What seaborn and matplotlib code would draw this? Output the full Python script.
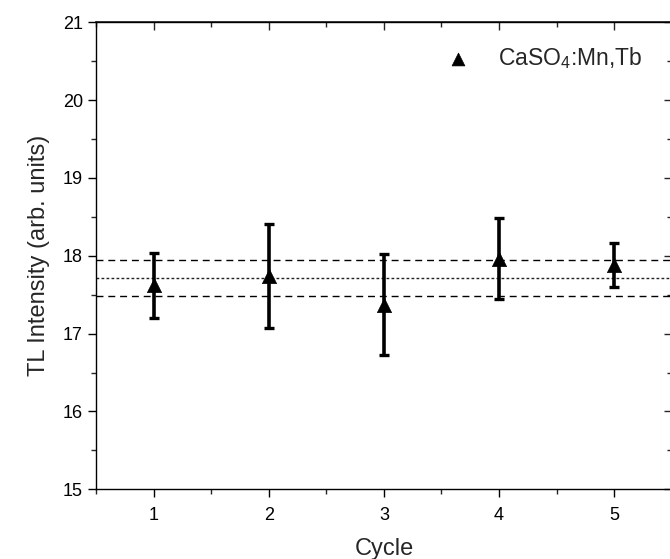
import matplotlib
matplotlib.use("Agg")
import matplotlib.pyplot as plt
import seaborn as sns
import numpy as np
import pandas as pd
from matplotlib.ticker import MultipleLocator

# ---- data ----
cycles = [1, 2, 3, 4, 5]
tl_intensity = [17.62, 17.74, 17.37, 17.96, 17.88]
tl_error = [0.42, 0.67, 0.65, 0.52, 0.28]
series_label = r"$\mathregular{CaSO_4}$:Mn,Tb"
x_label = "Cycle"
y_label = "TL Intensity (arb. units)"

df = pd.DataFrame({"Cycle": cycles, "TL": tl_intensity, "err": tl_error})
mean_val = float(np.mean(tl_intensity))
std_val = float(np.std(tl_intensity, ddof=1))

sns.set_theme(style="ticks")
plt.rcParams["font.family"] = ["Liberation Sans", "DejaVu Sans"]
plt.rcParams["mathtext.default"] = "regular"
plt.rcParams["mathtext.fontset"] = "custom"
plt.rcParams["mathtext.rm"] = "Liberation Sans"

fig = plt.figure(figsize=(6.70, 5.59), dpi=100)
ax = fig.add_axes([96 / 670, 1 - 489.3 / 559, (671.8 - 96) / 670, (489.3 - 22.3) / 559])

# reference lines
ax.axhline(mean_val, color="#222222", lw=1.0, ls=(0, (2, 1.6)), zorder=1)
ax.axhline(mean_val + std_val, color="black", lw=1.0, ls=(0, (5, 3.5)), zorder=1)
ax.axhline(mean_val - std_val, color="black", lw=1.0, ls=(0, (5, 3.5)), zorder=1)

# error bars
ax.errorbar(df["Cycle"], df["TL"], yerr=df["err"], fmt="none", ecolor="black",
            elinewidth=2.6, capsize=3.3, capthick=2.4, zorder=2)

# markers
sns.scatterplot(data=df, x="Cycle", y="TL", marker="^", s=105, color="black",
                edgecolor="black", linewidth=0.5, ax=ax, label=series_label, zorder=3)

ax.set_xlim(0.5, 5.5)
ax.set_ylim(15, 21)
ax.xaxis.set_major_locator(MultipleLocator(1))
ax.xaxis.set_minor_locator(MultipleLocator(0.5))
ax.yaxis.set_major_locator(MultipleLocator(1))
ax.yaxis.set_minor_locator(MultipleLocator(0.5))

for side in ["left", "bottom", "top", "right"]:
    ax.spines[side].set_visible(True)
    ax.spines[side].set_linewidth(1.0)
    ax.spines[side].set_color("black")

ax.tick_params(axis="both", which="major", direction="out", length=6, width=1.0,
               labelsize=13, colors="black", top=False, right=False)
ax.tick_params(axis="x", which="major", pad=7)
ax.tick_params(axis="both", which="minor", direction="out", length=3.5, width=1.0,
               top=False, right=False)

# mirrored inward ticks on top/right
axt = ax.secondary_xaxis("top")
axt.xaxis.set_major_locator(MultipleLocator(1))
axt.xaxis.set_minor_locator(MultipleLocator(0.5))
axt.tick_params(which="major", direction="in", length=6, width=1.0, labeltop=False)
axt.tick_params(which="minor", direction="in", length=3.5, width=1.0)
axt.set_xticklabels([])
axr = ax.secondary_yaxis("right")
axr.yaxis.set_major_locator(MultipleLocator(1))
axr.yaxis.set_minor_locator(MultipleLocator(0.5))
axr.tick_params(which="major", direction="in", length=6, width=1.0, labelright=False)
axr.tick_params(which="minor", direction="in", length=3.5, width=1.0)
axr.set_yticklabels([])

ax.set_xlabel(x_label, fontsize=17, labelpad=10)
ax.set_ylabel(y_label, fontsize=17, labelpad=9)

leg = ax.legend(loc="upper right", frameon=False, fontsize=16.5, handletextpad=0.75,
                bbox_to_anchor=(0.985, 0.995), markerscale=0.9)

fig.savefig("out.png", dpi=100)
